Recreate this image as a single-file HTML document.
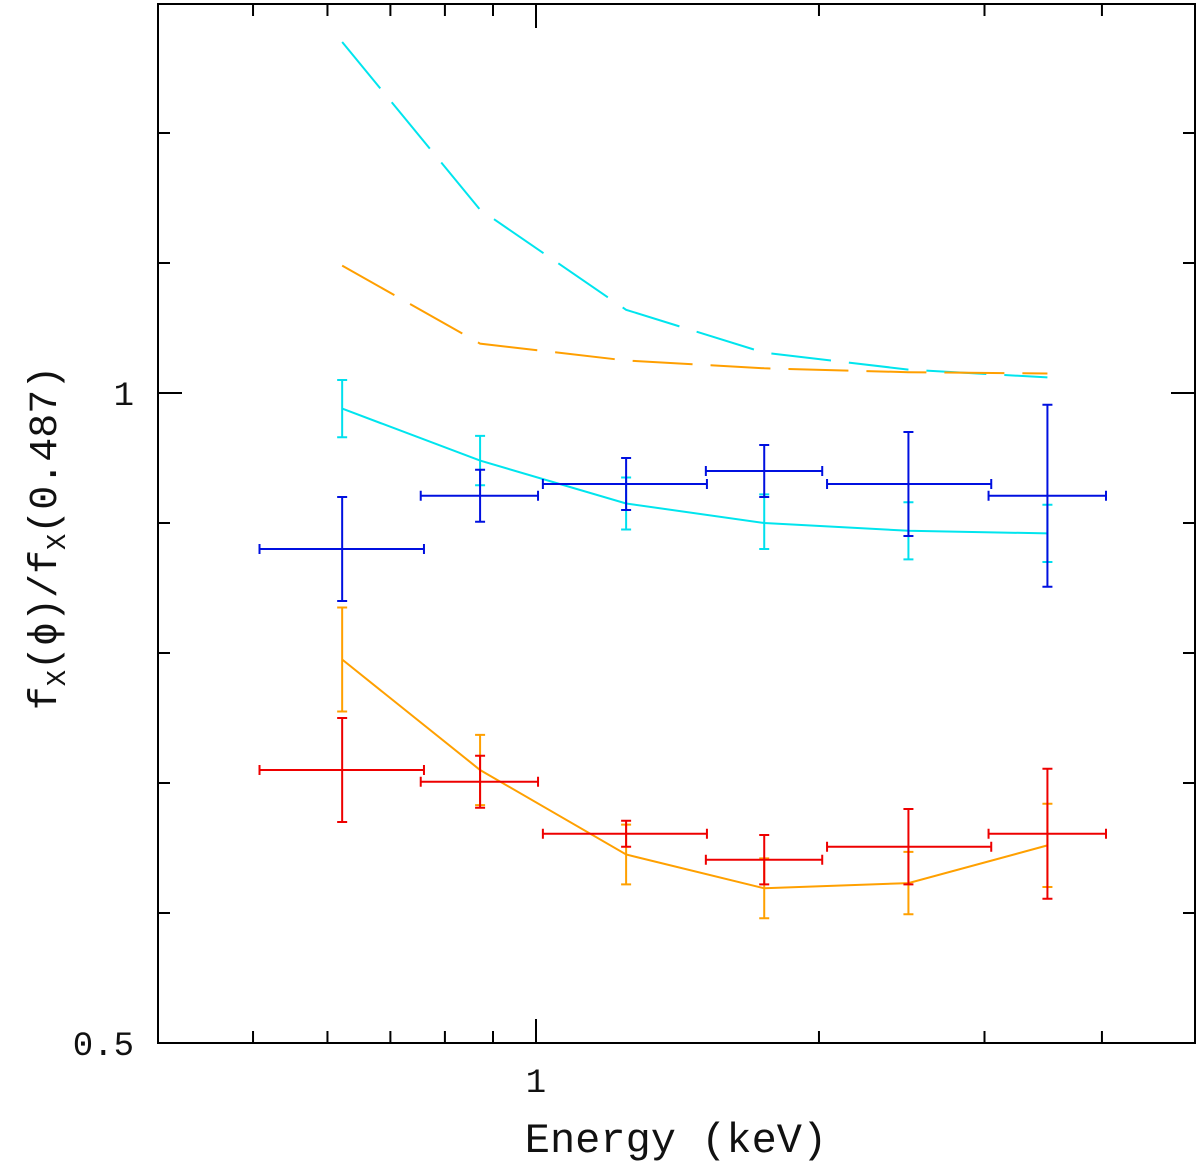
<!DOCTYPE html>
<html><head><meta charset="utf-8"><style>
body{margin:0;background:#fff}
svg{display:block}
text{font-family:"Liberation Mono",monospace;fill:#111}
</style></head><body>
<svg id="chart" width="1200" height="1163" xmlns="http://www.w3.org/2000/svg">
<g id="axes"></g>
<g id="marks"></g>
<text x="676" y="1152" font-size="42" text-anchor="middle">Energy (keV)</text>
<text transform="translate(56,538) rotate(-90)" font-size="40" text-anchor="middle">f<tspan font-size="27" dy="9">X</tspan><tspan dy="-9">(ϕ)/f</tspan><tspan font-size="27" dy="9">X</tspan><tspan dy="-9">(0.487)</tspan></text>
</svg>
<script>
const energies=[0.622,0.872,1.247,1.749,2.49,3.50];
const binLo=[0.508,0.754,1.017,1.516,2.04,3.03];
const binHi=[0.76,1.005,1.52,2.016,3.05,4.04];
const blueVal=[0.880,0.921,0.930,0.940,0.930,0.921];
const blueErr=[0.040,0.020,0.020,0.020,0.040,0.070];
const redVal=[0.710,0.701,0.661,0.641,0.651,0.661];
const redErr=[0.040,0.020,0.010,0.019,0.029,0.050];
const cyanVal=[0.988,0.948,0.915,0.901,0.894,0.892];
const cyanErr=[0.022,0.019,0.020,0.021,0.022,0.022];
const orangeVal=[0.795,0.710,0.645,0.619,0.623,0.652];
const orangeErr=[0.040,0.027,0.023,0.023,0.024,0.032];
const cyanModel=[0.988,0.948,0.915,0.900,0.894,0.892];
const orangeModel=[0.795,0.710,0.645,0.619,0.623,0.652];
const cyanDashed=[1.270,1.141,1.064,1.031,1.018,1.012];
const orangeDashed=[1.098,1.038,1.025,1.019,1.016,1.015];
const xTicks=[0.5,0.6,0.7,0.8,0.9,1,2,3,4];
const yTicks=[0.5,0.6,0.7,0.8,0.9,1,1.1,1.2];
const L=158,R=1195,T=4,B=1043;
const X=v=>536+940*Math.log10(v);
const Y=v=>393-(v-1)*1300;
const NS="http://www.w3.org/2000/svg";
function mk(parent,tag,attrs){const e=document.createElementNS(NS,tag);for(const k in attrs)e.setAttribute(k,attrs[k]);document.getElementById(parent).appendChild(e);return e;}
let f=mk('axes','rect',{x:L,y:T,width:R-L,height:B-T,fill:'none',stroke:'#000','stroke-width':2});


xTicks.forEach(t=>{const major=(t===1);const len=major?24:12;
 let a=mk('axes','line',{x1:X(t),x2:X(t),y1:B,y2:B-len,stroke:'#000','stroke-width':2});
 
 
 let b=mk('axes','line',{x1:X(t),x2:X(t),y1:T,y2:T+len,stroke:'#000','stroke-width':2});
 
 
 if(major){let tx=mk('axes','text',{x:X(t),y:1092,'font-size':34,'text-anchor':'middle'});tx.textContent='1';
 
 }
});
yTicks.forEach(t=>{const major=(t===1||t===0.5);const len=major?24:12;
 let a=mk('axes','line',{x1:L,x2:L+len,y1:Y(t),y2:Y(t),stroke:'#000','stroke-width':2});
 
 
 let b=mk('axes','line',{x1:R,x2:R-len,y1:Y(t),y2:Y(t),stroke:'#000','stroke-width':2});
 
 
 if(major){let tx=mk('axes','text',{x:134,y:Y(t)+12,'font-size':34,'text-anchor':'end'});tx.textContent=(t===1?'1':'0.5');
 
 }
});
function line(vals,color,dash,name){const pts=energies.map((e,i)=>X(e)+','+Y(vals[i])).join(' ');
 let p=mk('marks','polyline',{points:pts,fill:'none',stroke:color,'stroke-width':2,'stroke-dasharray':dash||'none'});
 
 }
function errs(vals,er,color,name,withX){energies.forEach((e,i)=>{
 const x=X(e),y1=Y(vals[i]-er[i]),y2=Y(vals[i]+er[i]),c=5;
 let d='M'+x+' '+y1+'V'+y2+'M'+(x-c)+' '+y1+'H'+(x+c)+'M'+(x-c)+' '+y2+'H'+(x+c);
 if(withX){const xa=X(binLo[i]),xb=X(binHi[i]),y=Y(vals[i]);d+='M'+xa+' '+y+'H'+xb+'M'+xa+' '+(y-c)+'V'+(y+c)+'M'+xb+' '+(y-c)+'V'+(y+c);}
 let p=mk('marks','path',{d:d,fill:'none',stroke:color,'stroke-width':2});
 
 });}
line(cyanDashed,'#00e5ee','60 18','cyan-dashed-model');
line(orangeDashed,'#ff9f00','60 18','orange-dashed-model');
line(cyanModel,'#00e5ee','','cyan-solid-model');
line(orangeModel,'#ffa000','','orange-solid-model');
errs(cyanVal,cyanErr,'#00e0ee','cyan-errorbar',false);
errs(orangeVal,orangeErr,'#ffa000','orange-errorbar',false);
errs(blueVal,blueErr,'#0010e0','blue-point',true);
errs(redVal,redErr,'#ee0000','red-point',true);
</script>
</body></html>
